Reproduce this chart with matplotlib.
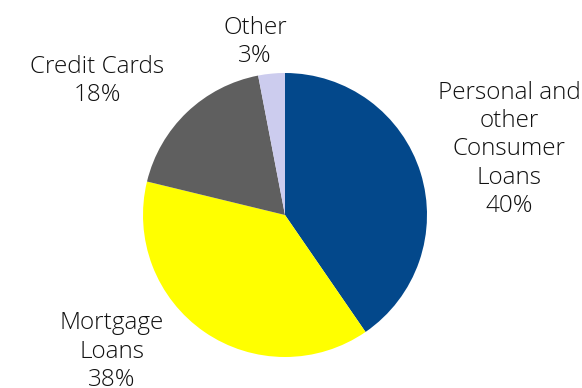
import matplotlib
matplotlib.use("Agg")
import matplotlib.pyplot as plt

categories = ["Personal and\nother\nConsumer\nLoans", "Mortgage\nLoans", "Credit Cards", "Other"]
shares = [40, 38, 18, 3]
colors = ["#03488B", "#FFFF00", "#5F5F5F", "#CCCCEE"]

# label centres (in pie-radius units) for each slice
label_pos = [(1.577, 0.462), (-1.218, -0.962), (-1.324, 0.944), (-0.211, 1.218)]

plt.rcParams["font.family"] = ["Open Sans", "DejaVu Sans"]

fig = plt.figure(figsize=(5.82, 3.88), dpi=100)
ax = fig.add_axes([0, 0, 1, 1])

wedges, texts = ax.pie(
    shares,
    colors=colors,
    startangle=90,
    counterclock=False,
    radius=1.0,
    labels=[f"{c}\n{v}%" for c, v in zip(categories, shares)],
    wedgeprops=dict(linewidth=0),
    textprops=dict(fontsize=17.5, color="#111111", ha="center", va="center",
                   linespacing=1.23, fontweight="light"),
)
for t, (x, y) in zip(texts, label_pos):
    t.set_position((x, y))
    t.set_ha("center")
    t.set_va("center")

ax.set_xlim(-285 / 142, (582 - 285) / 142)
ax.set_ylim(-173 / 142, 215 / 142)
ax.set_aspect("equal")
ax.axis("off")

fig.savefig("out.png", dpi=100, facecolor="white")
